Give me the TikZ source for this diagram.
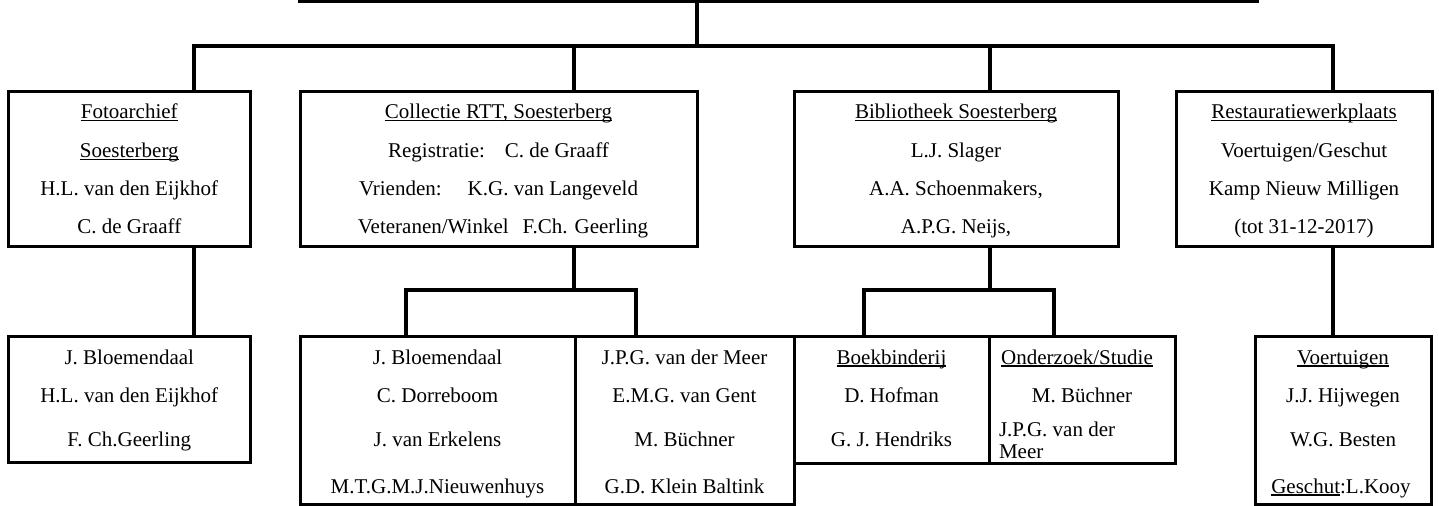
\documentclass[tikz,border=0pt]{standalone}
\usepackage{fontspec}
\setmainfont{Liberation Serif}
\newsavebox\ulbox
\newcommand\wordul[1]{\sbox\ulbox{#1}\rlap{\rule[-2.6bp]{\wd\ulbox}{1.2bp}}\usebox\ulbox}
\begin{document}
\begin{tikzpicture}[x=1bp,y=-1bp,
  box/.style={draw, line width=3bp, inner sep=0pt, outer sep=0pt, rectangle},
  wire/.style={line width=3.3bp, line join=miter},
  txt/.style={anchor=base, inner sep=0pt, outer sep=0pt, font=\fontsize{21bp}{25bp}\selectfont},
  txtl/.style={txt, anchor=base west}]
\clip (0,0) rectangle (1439,506);
\fill[white] (0,0) rectangle (1439,506);
% boxes
\node[box, minimum width=957bp, minimum height=62bp] (top) at (778.5,-29) {};
\node[box, minimum width=241.5bp, minimum height=154bp] (foto) at (129.25,169) {};
\node[box, minimum width=397bp, minimum height=154bp] (coll) at (498.5,169) {};
\node[box, minimum width=324bp, minimum height=154bp] (bib) at (956,169) {};
\node[box, minimum width=256bp, minimum height=154bp] (rest) at (1304,169) {};
\node[box, minimum width=241.5bp, minimum height=126bp] (lowfoto) at (129.25,399) {};
\node[box, minimum width=275bp, minimum height=168bp] (collA) at (437.5,420) {};
\node[box, minimum width=219bp, minimum height=168bp] (collB) at (684.5,420) {};
\node[box, minimum width=195bp, minimum height=127bp] (boek) at (891.5,399.5) {};
\node[box, minimum width=186bp, minimum height=127bp] (onder) at (1082,399.5) {};
\node[box, minimum width=176bp, minimum height=168bp] (voert) at (1343,420) {};
% junctions
\coordinate (jtop) at (697,46);
\coordinate (jfoto) at (194,46);
\coordinate (jcoll) at (574,46);
\coordinate (jbib) at (990,46);
\coordinate (jrest) at (1333,46);
\coordinate (jcs) at (574,290);
\coordinate (jca) at (406,290);
\coordinate (jcb) at (636,290);
\coordinate (jbs) at (990,290);
\coordinate (jba) at (864,290);
\coordinate (jbb) at (1054,290);
% connectors
\draw[wire] (top.south -| jtop) -- (jtop);
\draw[wire] (foto.north -| jfoto) -- (jfoto) -- (jrest) -- (rest.north -| jrest);
\draw[wire] (jcoll) -- (coll.north -| jcoll);
\draw[wire] (jbib) -- (bib.north -| jbib);
\draw[wire] (foto.south -| jfoto) -- (lowfoto.north -| jfoto);
\draw[wire] (coll.south -| jcs) -- (jcs);
\draw[wire] (collA.north -| jca) -- (jca) -- (jcb) -- (collB.north -| jcb);
\draw[wire] (bib.south -| jbs) -- (jbs);
\draw[wire] (boek.north -| jba) -- (jba) -- (jbb) -- (onder.north -| jbb);
\draw[wire] (rest.south -| jrest) -- (voert.north -| jrest);
% texts: Fotoarchief
\node[txt] (fa1) at (129.25,118.5) {\wordul{Fotoarchief}};
\node[txt] (fa2) at (129.25,157.5) {\wordul{Soesterberg}};
\node[txt] (fa3) at (129.25,196) {H.L. van den Eijkhof};
\node[txt] (fa4) at (129.25,234) {C. de Graaff};
% Collectie
\node[txt] (co1) at (498.5,118.5) {\wordul{Collectie RTT, Soesterberg}};
\node[txt] (co2) at (498.5,157.5) {Registratie:\hspace{20bp}C. de Graaff};
\node[txt] (co3) at (498.5,196) {Vrienden:\hspace{26bp}K.G. van Langeveld};
\node[txt] (co4) at (503,234) {Veteranen/Winkel\hspace{14bp}F.Ch. Geerling};
% Bibliotheek
\node[txt] (bi1) at (956,118.5) {\wordul{Bibliotheek Soesterberg}};
\node[txt] (bi2) at (956,157.5) {L.J. Slager};
\node[txt] (bi3) at (956,196) {A.A. Schoenmakers,};
\node[txt] (bi4) at (956,234) {A.P.G. Neijs,};
% Restauratie
\node[txt] (re1) at (1304,118.5) {\wordul{Restauratiewerkplaats}};
\node[txt] (re2) at (1304,157.5) {Voertuigen/Geschut};
\node[txt] (re3) at (1304,196) {Kamp Nieuw Milligen};
\node[txt] (re4) at (1304,234) {(tot 31-12-2017)};
% lower Fotoarchief
\node[txt] (lf1) at (129.25,364) {J. Bloemendaal};
\node[txt] (lf2) at (129.25,402) {H.L. van den Eijkhof};
\node[txt] (lf3) at (129.25,446) {F. Ch.Geerling};
% collA
\node[txt] (ca1) at (437.5,364) {J. Bloemendaal};
\node[txt] (ca2) at (437.5,402) {C. Dorreboom};
\node[txt] (ca3) at (437.5,446) {J. van Erkelens};
\node[txt] (ca4) at (437.5,493) {M.T.G.M.J.Nieuwenhuys};
% collB
\node[txt] (cb1) at (684.5,364) {J.P.G. van der Meer};
\node[txt] (cb2) at (684.5,402) {E.M.G. van Gent};
\node[txt] (cb3) at (684.5,446) {M. Büchner};
\node[txt] (cb4) at (684.5,493) {G.D. Klein Baltink};
% Boekbinderij
\node[txt] (bo1) at (891.5,364) {\wordul{Boekbinderij}};
\node[txt] (bo2) at (891.5,402) {D. Hofman};
\node[txt] (bo3) at (891.5,446) {G. J. Hendriks};
% Onderzoek
\node[txt] (on1) at (1077,364) {\wordul{Onderzoek/Studie}};
\node[txt] (on2) at (1082,402) {M. Büchner};
\node[txtl] (on3) at (999,436) {J.P.G. van der};
\node[txtl] (on4) at (999,458) {Meer};
% Voertuigen
\node[txt] (vo1) at (1343,364) {\wordul{Voertuigen}};
\node[txt] (vo2) at (1343,402) {J.J. Hijwegen};
\node[txt] (vo3) at (1343,446) {W.G. Besten};
\node[txt] (vo4) at (1341,493) {\wordul{Geschut}:L.Kooy};
\end{tikzpicture}
\end{document}
